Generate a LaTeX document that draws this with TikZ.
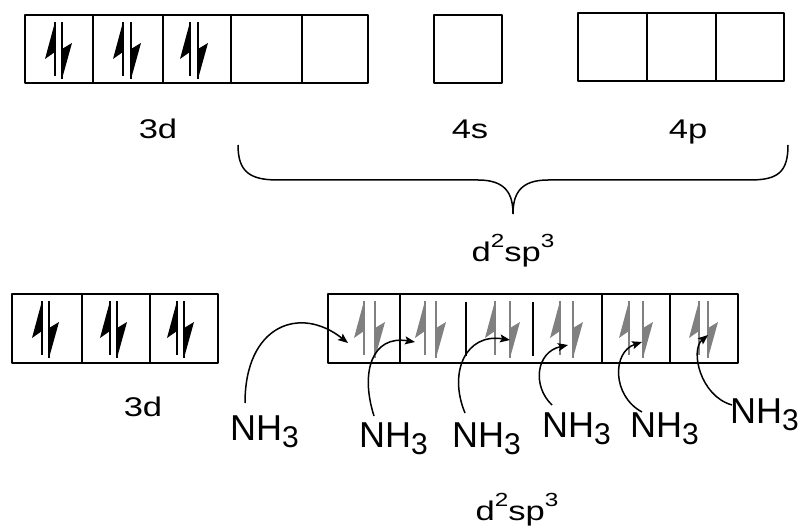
\documentclass[tikz,border=0pt]{standalone}
\usepackage{fontspec}
\setmainfont{Liberation Sans}
\usetikzlibrary{arrows.meta}
\definecolor{egray}{HTML}{808080}
\newcommand\supr[1]{\raisebox{14pt}{\fontsize{19}{19}\selectfont #1}}
\newcommand\wide[1]{\scalebox{1.28}[1]{#1}}
\newcommand\nhthree{NH\raisebox{-7pt}{\fontsize{30}{30}\selectfont 3}}
% electron pair: #1 box left, #2 box top, #3 left stem, #4 right stem, #5 colour
\newcommand\epair[5]{%
  \begin{scope}[shift={(#1,#2)}]
    \draw[#5, line width=2.2pt] (#3,7) -- (#3,61);
    \fill[#5] (#3,7) -- (#3-10,44) -- (#3,37) -- cycle;
    \draw[#5, line width=2.2pt] (#4,7) -- (#4,64);
    \fill[#5] (#4,64) -- (#4+10,28) -- (#4,34) -- cycle;
  \end{scope}}
\begin{document}
\begin{tikzpicture}[x=1pt,y=-1pt,
  box/.style={line width=1.3pt, line join=round},
  lbl/.style={font=\fontsize{27}{27}\selectfont, inner sep=0pt, anchor=base},
  nh/.style={font=\fontsize{36}{36}\selectfont, inner sep=0pt, anchor=base west},
  arr/.style={line width=1.5pt, -{Stealth[length=10pt,width=8pt,inset=2pt]}},
  brace/.style={line width=1.5pt}]
\useasboundingbox (0,0) rectangle (811,529);
% ---- top row ----
\draw[box] (25,15) rectangle (368,83);
\foreach \x in {93,163,231,302} \draw[box] (\x,15) -- (\x,83);
\epair{25}{15}{30}{37}{black}
\epair{93}{15}{30}{38}{black}
\epair{163}{15}{27}{35}{black}
\draw[box] (434,15) rectangle (502,83);
\draw[box] (578,13) rectangle (784,81);
\foreach \x in {647,716} \draw[box] (\x,13) -- (\x,81);
\node[lbl] (t3d) at (158,139) {\wide{3d}};
\node[lbl] (t4s) at (470,139) {\wide{4s}};
\node[lbl] (t4p) at (688,139) {\wide{4p}};
% ---- brace ----
\draw[brace] (238,145) .. controls (238,172) and (250,180) .. (278,180)
  -- (478,180) .. controls (505,180) and (513,193) .. (513,214)
  .. controls (513,193) and (521,180) .. (548,180)
  -- (750,180) .. controls (778,180) and (788,172) .. (788,145);
\node[lbl] (thyb) at (513,262) {\wide{d\supr{2}sp\supr{3}}};
% ---- bottom row ----
\draw[box] (12,294) rectangle (218,363);
\foreach \x in {82,150} \draw[box] (\x,294) -- (\x,363);
\epair{12}{294}{30}{37}{black}
\epair{82}{294}{28}{35}{black}
\epair{150}{294}{27}{34}{black}
\node[lbl] (b3d) at (143,416) {\wide{3d}};
\draw[box] (328,294) rectangle (738,363);
\foreach \x in {400,602,670} \draw[box] (\x,294) -- (\x,363);
\foreach \x in {466,533} \draw[box] (\x,302) -- (\x,356);
\epair{328}{294}{36}{47}{egray}
\epair{400}{294}{25}{36}{egray}
\epair{466}{294}{29}{44}{egray}
\epair{533}{294}{27}{40}{egray}
\epair{602}{294}{27}{41}{egray}
\epair{670}{294}{29}{38}{egray}
\node[lbl] (bhyb) at (517,520) {\wide{d\supr{2}sp\supr{3}}};
% ---- ligands ----
\node[nh] (n1) at (230,440) {\nhthree};
\node[nh] (n2) at (359,447) {\nhthree};
\node[nh] (n3) at (452,447) {\nhthree};
\node[nh] (n4) at (542,437) {\nhthree};
\node[nh] (n5) at (630,437) {\nhthree};
\node[nh] (n6) at (730,423) {\nhthree};
\coordinate (s1) at (245,403); \coordinate (e1) at (348,343);
\coordinate (s2) at (374,416); \coordinate (e2) at (415,342);
\coordinate (s3) at (465,413); \coordinate (e3) at (510,340);
\coordinate (s4) at (552,405); \coordinate (e4) at (568,345);
\coordinate (s5) at (642,412); \coordinate (e5) at (642,342);
\coordinate (s6) at (732,405); \coordinate (e6) at (708,335);
\draw[arr] (s1) .. controls (245,325) and (300,305) .. (e1);
\draw[arr] (s2) .. controls (360,372) and (372,335) .. (e2);
\draw[arr] (s3) .. controls (448,372) and (466,333) .. (e3);
\draw[arr] (s4) .. controls (532,386) and (536,352) .. (e4);
\draw[arr] (s5) .. controls (612,396) and (612,352) .. (e5);
\draw[arr] (s6) .. controls (700,396) and (690,350) .. (e6);
\end{tikzpicture}
\end{document}
